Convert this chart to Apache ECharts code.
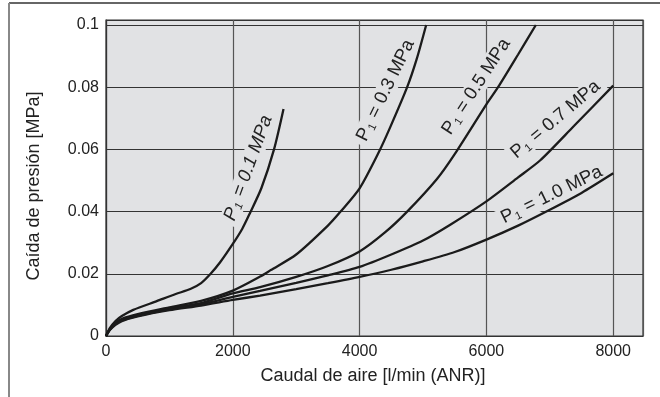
<!DOCTYPE html>
<html><head><meta charset="utf-8">
<script src="https://cdn.jsdelivr.net/npm/echarts@6/dist/echarts.min.js"></script>
<style>html,body{margin:0;padding:0;background:#fff}#c{width:660px;height:397px}</style>
</head><body><div id="c"></div>
<script>
// ---- data ----
const xTickLabels = ['0', '2000', '4000', '6000', '8000'];
const yTickLabels = ['0', '0.02', '0.04', '0.06', '0.08', '0.1'];
const seriesNames = ['0.1', '0.3', '0.5', '0.7', '1.0'];

const flow01 = [0, 60, 150, 250, 430, 800, 1100, 1330, 1500, 1650, 1800, 2000, 2150, 2270, 2450, 2650, 2800];
const drop01 = [0, 0.0025, 0.0048, 0.0064, 0.0084, 0.0112, 0.0135, 0.0151, 0.0170, 0.0200, 0.0237, 0.0296, 0.0345, 0.0395, 0.0475, 0.0600, 0.0730];

const flow03 = [0, 60, 150, 250, 500, 1000, 1500, 2000, 2430, 2600, 3000, 3500, 3700, 4000, 4300, 4480, 4750, 4900, 5050];
const drop03 = [0, 0.0022, 0.0042, 0.0055, 0.0070, 0.0092, 0.0113, 0.0146, 0.0191, 0.0212, 0.0262, 0.0355, 0.0400, 0.0475, 0.0590, 0.0670, 0.0800, 0.0890, 0.1000];

const flow05 = [0, 60, 150, 250, 500, 1000, 1500, 2000, 2430, 3000, 3500, 4000, 4400, 4750, 5220, 5500, 6000, 6200, 6500, 6780];
const drop05 = [0, 0.0021, 0.0040, 0.0052, 0.0067, 0.0089, 0.0106, 0.0137, 0.0157, 0.0190, 0.0225, 0.0272, 0.0333, 0.0400, 0.0505, 0.0585, 0.0745, 0.0805, 0.0905, 0.1000];

const flow07 = [0, 60, 150, 250, 500, 1000, 1500, 2000, 2430, 3000, 3500, 4000, 4500, 5000, 5430, 6000, 6500, 6850, 7380, 8000];
const drop07 = [0, 0.0020, 0.0038, 0.0050, 0.0065, 0.0086, 0.0102, 0.0126, 0.0145, 0.0171, 0.0195, 0.0222, 0.0262, 0.0307, 0.0358, 0.0433, 0.0510, 0.0565, 0.0675, 0.0805];

const flow10 = [0, 60, 150, 250, 500, 1000, 1500, 2000, 2430, 3000, 3500, 4000, 4500, 5000, 5500, 6000, 6500, 7000, 7500, 8000];
const drop10 = [0, 0.0019, 0.0036, 0.0048, 0.0063, 0.0083, 0.0098, 0.0116, 0.0130, 0.0151, 0.0170, 0.0190, 0.0213, 0.0240, 0.0270, 0.0310, 0.0355, 0.0406, 0.0460, 0.0523];

const flows = [flow01, flow03, flow05, flow07, flow10];
const drops = [drop01, drop03, drop05, drop07, drop10];

// ---- presentation ----
const FONT = 'Liberation Sans, Arial, Helvetica, sans-serif';
const TXT = '#222';
const PLOT_BG = '#e1e2e4';
// label anchor (data coords) and rotation (deg) for each curve label
const labelAnchors = [
  { x: 2245, y: 0.0540, rot: 70, italic: true },
  { x: 4410, y: 0.0790, rot: 64 },
  { x: 5840, y: 0.0802, rot: 57 },
  { x: 7090, y: 0.0696, rot: 40 },
  { x: 7030, y: 0.0454, rot: 26 }
];

const chart = echarts.init(document.getElementById('c'), null, { renderer: 'canvas' });

const series = flows.map((fx, i) => ({
  type: 'line',
  name: seriesNames[i],
  data: fx.map((v, j) => [v, drops[i][j]]),
  showSymbol: false,
  smooth: 0.25,
  silent: true,
  z: 3,
  lineStyle: { color: '#1b1b1b', width: 2.3 }
}));

chart.setOption({
  animation: false,
  backgroundColor: '#ffffff',
  grid: {
    left: 106, top: 20, right: 17, bottom: 61,
    show: true, backgroundColor: PLOT_BG, borderColor: '#333', borderWidth: 1.2
  },
  xAxis: {
    type: 'value', min: 0, max: 8470, interval: 2000,
    axisLine: { show: true, lineStyle: { color: '#333', width: 1.2 } },
    axisTick: { show: false },
    splitLine: { show: true, lineStyle: { color: '#555', width: 1.2 } },
    axisLabel: {
      showMaxLabel: false, margin: 8, fontSize: 16, color: TXT, fontFamily: FONT,
      formatter: v => xTickLabels[Math.round(v / 2000)] ?? ''
    }
  },
  yAxis: {
    type: 'value', min: 0, max: 0.1016, interval: 0.02,
    axisLine: { show: true, lineStyle: { color: '#333', width: 1.2 } },
    axisTick: { show: false },
    splitLine: { show: true, lineStyle: { color: '#333', width: 1.2 } },
    axisLabel: {
      showMaxLabel: false, margin: 7, fontSize: 16, color: TXT, fontFamily: FONT,
      formatter: v => yTickLabels[Math.round(v / 0.02)] ?? ''
    }
  },
  series
});

const labelGraphics = labelAnchors.map((a, i) => {
  const p = chart.convertToPixel({ gridIndex: 0 }, [a.x, a.y]);
  const st = a.italic ? 'italic' : 'normal';
  return {
    type: 'text', x: p[0], y: p[1], rotation: a.rot * Math.PI / 180, z: 1, silent: true,
    style: {
      text: '{p|P}{s|1}{p| = ' + seriesNames[i] + ' MPa}',
      align: 'center', verticalAlign: 'middle',
      backgroundColor: PLOT_BG, padding: [0, 5],
      rich: {
        p: { fontSize: 18.5, fontFamily: FONT, fill: TXT, fontStyle: st, lineHeight: 20 },
        s: { fontSize: 11, fontFamily: FONT, fill: TXT, fontStyle: st, verticalAlign: 'bottom', lineHeight: 20, padding: [0, 1, 0, 1] }
      }
    }
  };
});

chart.setOption({
  graphic: [
    { type: 'line', shape: { x1: 9, y1: 3, x2: 660, y2: 3 }, style: { stroke: '#333', lineWidth: 1.5 }, silent: true },
    { type: 'line', shape: { x1: 9, y1: 3, x2: 9, y2: 397 }, style: { stroke: '#888', lineWidth: 2 }, silent: true },
    {
      type: 'text', x: 373, y: 376, silent: true,
      style: { text: 'Caudal de aire [l/min (ANR)]', align: 'center', verticalAlign: 'middle', fontSize: 18, fontFamily: FONT, fill: TXT }
    },
    {
      type: 'text', x: 34, y: 186, rotation: Math.PI / 2, silent: true,
      style: { text: 'Caída de presión [MPa]', align: 'center', verticalAlign: 'middle', fontSize: 18, fontFamily: FONT, fill: TXT }
    }
  ].concat(labelGraphics)
});
</script>
</body></html>
